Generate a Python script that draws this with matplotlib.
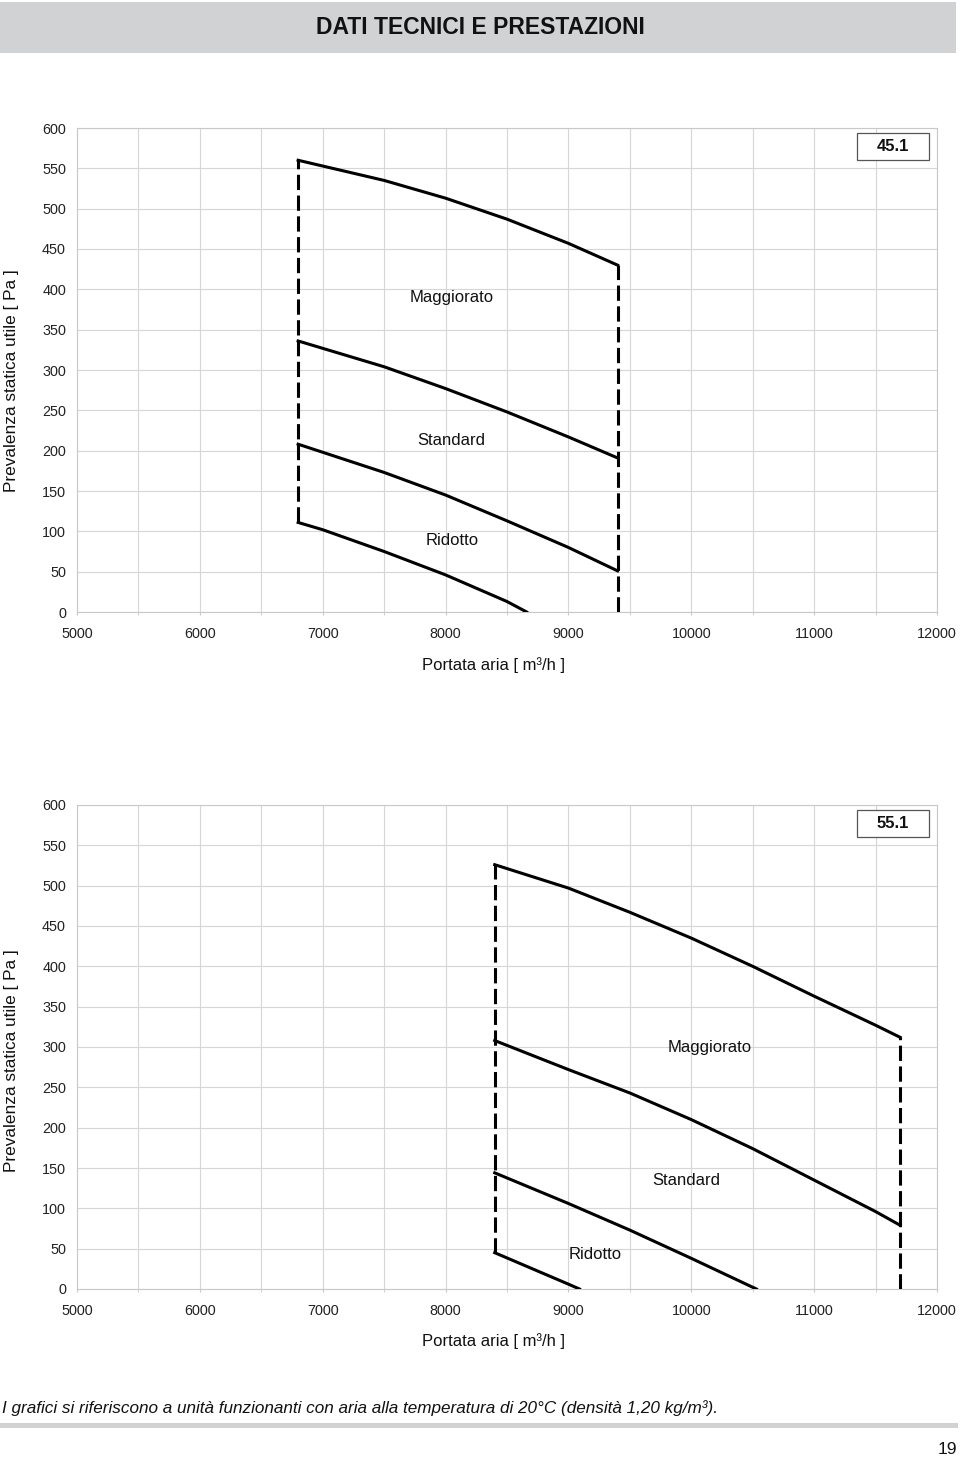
import matplotlib
matplotlib.use('Agg')
import matplotlib.pyplot as plt
from matplotlib.patches import Rectangle
from matplotlib.ticker import MultipleLocator

plt.rcParams['font.family'] = ['Liberation Sans', 'DejaVu Sans']

# Portata aria [m3/h] e prevalenza [Pa] - modello 45.1
x_magg_45 = [6800, 7500, 8000, 8500, 9000, 9400]
p_magg_45 = [560, 535, 513, 487, 457, 430]
x_std_45 = [6800, 7500, 8000, 8500, 9000, 9400]
p_std_45 = [336, 304, 277, 248, 217, 191]
x_rid_45 = [6800, 7000, 7500, 8000, 8500, 9000, 9400]
p_rid_45 = [208, 198, 173, 145, 113, 80, 51]
x_min_45 = [6800, 7000, 7500, 8000, 8500, 8660]
p_min_45 = [111, 102, 75, 46, 13, 0]

# Portata aria [m3/h] e prevalenza [Pa] - modello 55.1
x_magg_55 = [8400, 9000, 9500, 10000, 10500, 11000, 11500, 11700]
p_magg_55 = [526, 497, 467, 435, 400, 363, 327, 312]
x_std_55 = [8400, 9000, 9500, 10000, 10500, 11000, 11500, 11700]
p_std_55 = [308, 272, 243, 210, 174, 135, 96, 79]
x_rid_55 = [8400, 9000, 9500, 10000, 10530]
p_rid_55 = [144, 106, 73, 38, 0]
x_min_55 = [8400, 9000, 9090]
p_min_55 = [45, 6, 0]

# Label positions (portata, prevalenza)
labels_45 = [('Maggiorato', 8050, 390), ('Standard', 8050, 213), ('Ridotto', 8050, 89)]
labels_55 = [('Maggiorato', 10150, 299), ('Standard', 9960, 134), ('Ridotto', 9220, 43)]


# Draw one chart with the four curves and the dashed limits
def drawChart(ax, curves, labels, model):
    for xs, ps in curves:
        ax.plot(xs, ps, color='black', lw=2.2, solid_joinstyle='round', zorder=3)

    # dashed limits at min and max portata
    x_left = curves[0][0][0]
    x_right = curves[0][0][-1]
    ax.plot([x_left, x_left], [curves[-1][1][0], curves[0][1][0]],
            color='black', lw=2.2, dashes=(5, 1.8), zorder=3)
    ax.plot([x_right, x_right], [0, curves[0][1][-1]],
            color='black', lw=2.2, dashes=(5, 1.8), zorder=3)

    for text, x, p in labels:
        ax.text(x, p, text, ha='center', va='center', fontsize=12, color='#111111')

    # model box
    ax.add_patch(Rectangle((0.907, 0.934), 0.0837, 0.0557, transform=ax.transAxes,
                           fc='white', ec='#555555', lw=0.9, zorder=4, clip_on=False))
    ax.text(0.9488, 0.962, model, transform=ax.transAxes, ha='center', va='center',
            fontsize=12, fontweight='bold', color='#111111', zorder=5)

    ax.set_xlim(5000, 12000)
    ax.set_ylim(0, 600)
    ax.xaxis.set_major_locator(MultipleLocator(1000))
    ax.xaxis.set_minor_locator(MultipleLocator(500))
    ax.yaxis.set_major_locator(MultipleLocator(50))
    ax.grid(True, which='both', color='#d6d6d6', lw=0.8)
    ax.set_axisbelow(True)
    for s in ax.spines.values():
        s.set_color('#c8c8c8')
        s.set_linewidth(0.8)
    ax.tick_params(axis='x', which='both', length=2, color='#c8c8c8', pad=9,
                   labelsize=10.4, labelcolor='#222222')
    ax.tick_params(axis='x', which='minor', labelbottom=False)
    ax.tick_params(axis='y', length=0, pad=8,
                   labelsize=10.4, labelcolor='#222222')


def main():
    fig = plt.figure(figsize=(9.6, 14.62), dpi=100)

# Header bar
    fig.patches.append(Rectangle((0, 1 - 53 / 1462), 956 / 960, 51 / 1462,
                                 transform=fig.transFigure, fc='#d1d2d4', ec='none'))
    fig.text(480 / 960, 1 - 27 / 1462, 'DATI TECNICI E PRESTAZIONI', ha='center', va='center',
             fontsize=16.5, fontweight='bold', color='#111111')

# Chart 45.1
    ax1 = fig.add_axes([77 / 960, 1 - 612 / 1462, 860 / 960, 484 / 1462])
    drawChart(ax1, [(x_magg_45, p_magg_45), (x_std_45, p_std_45),
                    (x_rid_45, p_rid_45), (x_min_45, p_min_45)], labels_45, '45.1')
    fig.text(12 / 960, 1 - 381 / 1462, 'Prevalenza statica utile [ Pa ]', rotation=90,
             ha='center', va='center', fontsize=12.4, color='#111111')
    fig.text(493 / 960, 1 - 665 / 1462, 'Portata aria [ m³/h ]', ha='center', va='center',
             fontsize=12, color='#111111')

# Chart 55.1
    ax2 = fig.add_axes([77 / 960, 1 - 1289 / 1462, 860 / 960, 484 / 1462])
    drawChart(ax2, [(x_magg_55, p_magg_55), (x_std_55, p_std_55),
                    (x_rid_55, p_rid_55), (x_min_55, p_min_55)], labels_55, '55.1')
    fig.text(12 / 960, 1 - 1061 / 1462, 'Prevalenza statica utile [ Pa ]', rotation=90,
             ha='center', va='center', fontsize=12.4, color='#111111')
    fig.text(493 / 960, 1 - 1341 / 1462, 'Portata aria [ m³/h ]', ha='center', va='center',
             fontsize=12, color='#111111')

# Footer
    fig.text(2 / 960, 1 - 1408 / 1462,
             'I grafici si riferiscono a unità funzionanti con aria alla temperatura di 20°C (densità 1,20 kg/m³).',
             ha='left', va='center', fontsize=12.3, style='italic', color='#111111')
    fig.patches.append(Rectangle((0, 1 - 1428 / 1462), 958 / 960, 5 / 1462,
                                 transform=fig.transFigure, fc='#d1d2d4', ec='none'))
    fig.text(947 / 960, 1 - 1450 / 1462, '19', ha='center', va='center',
             fontsize=12.5, color='#111111')

    fig.savefig('out.png', dpi=100)


if __name__ == '__main__':
    main()
